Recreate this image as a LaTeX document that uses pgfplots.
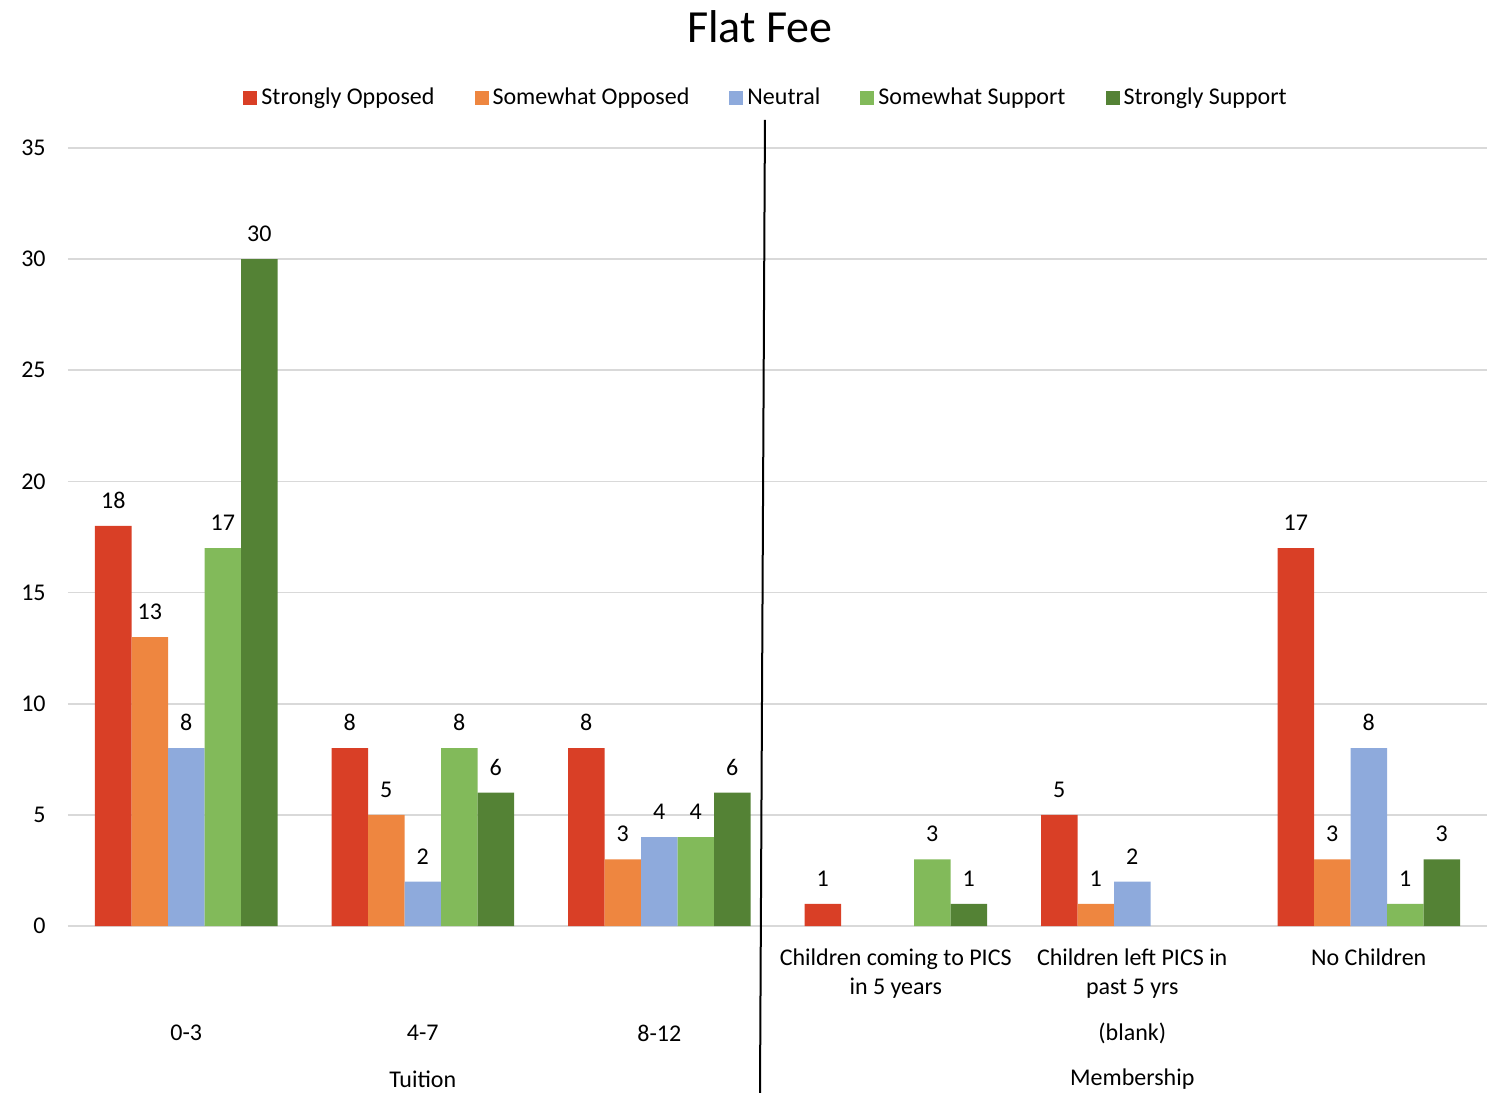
\documentclass[border=0pt]{standalone}
\usepackage{fontspec}
\setmainfont{Carlito}
\usepackage{pgfplots}
\pgfplotsset{compat=1.18}
\definecolor{cSO}{HTML}{D93F26}
\definecolor{cSwO}{HTML}{EE8640}
\definecolor{cN}{HTML}{8EAADC}
\definecolor{cSwS}{HTML}{82BA5A}
\definecolor{cSS}{HTML}{548235}
\definecolor{gridc}{HTML}{D9D9D9}
\pgfplotsset{sqlegend/.style={legend image code/.code={\fill[##1] (0pt,-3.5pt) rectangle (7pt,3.5pt);}}}
\begin{document}
\begin{tikzpicture}
\path[use as bounding box] (-34pt,-83.5pt) rectangle (713pt,463pt);
\begin{axis}[
  at={(0,0)}, anchor=south west,
  scale only axis, width=709.5pt, height=389pt,
  /pgf/number format/assume math mode=true,
  ybar=0pt, bar width=18.25pt,
  xmin=-0.5, xmax=5.5, ymin=0, ymax=35,
  xtick={0,1,2,3,4,5},
  xticklabels={{},{},{},{Children coming to PICS\\in 5 years},{Children left PICS in\\past 5 yrs},{No Children}},
  ytick={0,5,...,35},
  ymajorgrids, grid style={draw=gridc, line width=0.8pt},
  axis line style={draw=none},
  major tick length=0pt,
  tick label style={font=\fontsize{12}{14.5}\selectfont},
  yticklabel style={anchor=east, inner sep=0pt, xshift=-11pt},
  xticklabel style={anchor=north, inner sep=0pt, yshift=-11pt, align=center},
  nodes near coords,
  nodes near coords style={font=\fontsize{12}{14.5}\selectfont, black, anchor=south, inner sep=0pt, yshift=8.5pt},
  clip=false,
  sqlegend,
  legend columns=-1,
  legend style={draw=none, at={(0.4927,1.0642)}, anchor=center, font=\fontsize{12}{14.5}\selectfont,
    /tikz/every even column/.append style={column sep=18pt}, inner sep=0pt},
]
\addplot[fill=cSO, draw=none, sqlegend] coordinates {(0,18) (1,8) (2,8) (3,1) (4,5) (5,17)};
\addplot[fill=cSwO, draw=none, sqlegend] coordinates {(0,13) (1,5) (2,3) (4,1) (5,3)};
\addplot[fill=cN, draw=none, sqlegend] coordinates {(0,8) (1,2) (2,4) (4,2) (5,8)};
\addplot[fill=cSwS, draw=none, sqlegend] coordinates {(0,17) (1,8) (2,4) (3,3) (5,1)};
\addplot[fill=cSS, draw=none, sqlegend] coordinates {(0,30) (1,6) (2,6) (3,1) (5,3)};
\legend{Strongly Opposed, Somewhat Opposed, Neutral, Somewhat Support, Strongly Support}
\draw[line width=1pt, black] (axis cs:2.447,36.26) -- (axis cs:2.426,-7.51);
\begin{scope}[every node/.style={font=\fontsize{12}{14.5}\selectfont}]
\node at (axis cs:0,0) [yshift=-53.5pt] {0-3};
\node at (axis cs:1,0) [yshift=-53.5pt] {4-7};
\node at (axis cs:2,0) [yshift=-53.5pt] {8-12};
\node at (axis cs:4,0) [yshift=-53.5pt] {(blank)};
\node at (axis cs:1,0) [yshift=-76.5pt] {Tuition};
\node at (axis cs:4,0) [yshift=-76.5pt] {Membership};
\end{scope}
\end{axis}
\node[font=\fontsize{23}{27}\selectfont] at (346pt,449.5pt) {Flat Fee};
\end{tikzpicture}
\end{document}
